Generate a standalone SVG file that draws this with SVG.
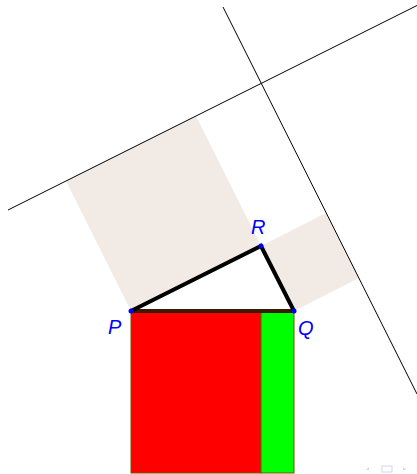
<svg xmlns="http://www.w3.org/2000/svg" width="417" height="474" viewBox="0 0 417 474">
<style>
.sq{fill:#f2eae5;stroke:none}
.ln{stroke:#000;stroke-width:1;fill:none}
.pt{fill:#0000ff}
.lbl{font-family:"Liberation Sans",Arial,sans-serif;font-style:italic;font-size:20px;fill:#0000ff}
.nav{fill:#d4d4ee}
</style>
<rect width="417" height="474" fill="#fff"/>
<g id="squares">
<polygon class="sq" points="131,311 261,246 196,116 66,181"/>
<polygon class="sq" points="261,246 294,311 359,278 326,213"/>
</g>
<g id="rects">
<rect x="131" y="311" width="130" height="162" fill="#ff0000" stroke="#7a5200" stroke-width="1"/>
<rect x="261" y="311" width="33" height="162" fill="#00ff00" stroke="#7a5200" stroke-width="1"/>
</g>
<g id="connectors">
<line class="ln" x1="8" y1="210" x2="417" y2="5.5"/>
<line class="ln" x1="223" y1="7" x2="417" y2="394"/>
<line x1="131" y1="311" x2="294" y2="311" stroke="#3a1a00" stroke-width="4"/>
<polyline points="131,311 261,246 294,311" fill="none" stroke="#000" stroke-width="4" stroke-linejoin="miter"/>
</g>
<g id="P"><circle class="pt" cx="131" cy="311" r="2.5"/><text class="lbl" x="108" y="334">P</text></g>
<g id="Q"><circle class="pt" cx="294" cy="311" r="2.5"/><text class="lbl" x="298" y="335">Q</text></g>
<g id="R"><circle class="pt" cx="261" cy="246" r="2.5"/><text class="lbl" x="251" y="234">R</text></g>
<g id="nav">
<polygon class="nav" points="366,470 369,467 369,470"/>
<rect x="382" y="466" width="10" height="6" fill="none" stroke="#d4d4ee" stroke-width="1"/>
<polygon class="nav" points="403,467 406,470 403,470"/>
</g>
</svg>
